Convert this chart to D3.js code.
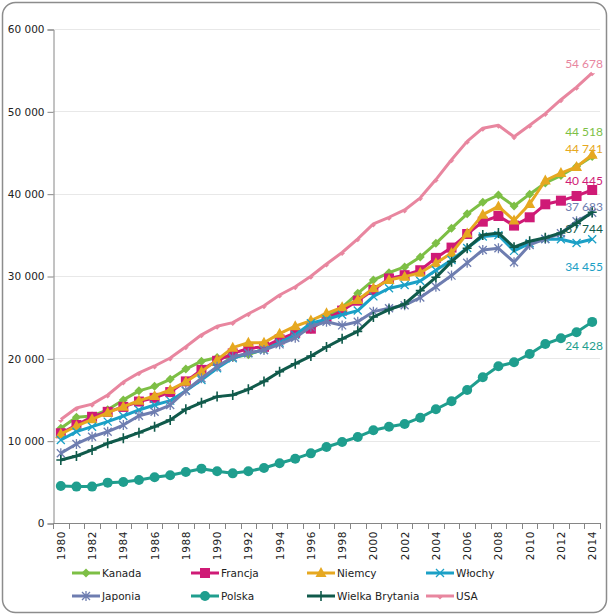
<!DOCTYPE html>
<html>
<head>
	<meta charset="utf-8">
	<title>PKB per capita</title>
	<script src="https://cdn.jsdelivr.net/npm/d3@7"></script>
	<style>
		body { margin: 0; background: #fff; }
		svg { display: block; }
	</style>
</head>
<body>
	<svg id="chart" width="610" height="616"></svg>
	<script type="text/javascript">
		var years = d3.range(1980, 2015);
		var yTicks = [0, 10000, 20000, 30000, 40000, 50000, 60000];

		var kanada = [11500,12850,13000,13750,14950,16050,16600,17450,18700,19650,20100,20100,20450,21100,22200,23000,23500,24950,26200,27900,29500,30400,31100,32300,33970,35790,37550,38950,39840,38500,39940,41300,42200,43300,44518];
		var francja = [10900,11900,12900,13500,14100,14750,15200,15900,17200,18600,19700,20600,21200,21400,22300,23100,23600,24800,25800,27000,28300,29700,30100,30700,32200,33450,35100,36600,37290,36120,37130,38710,39150,39720,40445];
		var niemcy = [10800,11780,12600,13400,14130,14860,15430,16160,17160,18380,19800,21300,21900,21900,23000,23900,24580,25470,26200,27090,28510,29520,29920,30400,31540,32800,35150,37450,38450,36750,38750,41600,42500,43250,44741];
		var wlochy = [10080,11090,11700,12310,13000,13730,14330,14860,16070,17370,18790,20010,20610,21010,21900,22840,24260,24740,25300,25800,27530,28510,28910,29400,30700,31950,33400,34800,34950,33050,33970,34500,34460,34000,34455];
		var japonia = [8470,9600,10480,11090,11900,13030,13520,14330,16070,17580,18990,20150,20650,21000,21700,22500,23850,24450,24000,24450,25670,26080,26450,27380,28700,30050,31600,33160,33370,31680,33770,34500,35190,36650,37683];
		var polska = [4490,4420,4420,4900,4980,5220,5550,5790,6190,6600,6280,6030,6280,6680,7250,7810,8460,9230,9840,10450,11260,11700,12030,12790,13810,14780,16160,17700,19030,19520,20530,21740,22430,23160,24428];
		var wielkaBrytania = [7650,8140,8870,9680,10290,10970,11700,12510,13810,14620,15350,15550,16240,17200,18380,19350,20270,21380,22370,23280,25020,25920,26600,28220,29840,31740,33370,34980,35230,33490,34230,34640,35230,36400,37744];
		var usa = [12575,13976,14434,15544,17121,18237,19071,20039,21417,22857,23889,24342,25419,26387,27695,28691,29968,31459,32854,34515,36330,37134,38023,39496,41713,44115,46352,47955,48302,46909,48310,49725,51409,52939,54678];

		// drawing order = legend order, USA ends up on top
		var series = [
			{ name: "Kanada", values: kanada, color: "#7dbf45", marker: "diamond", dy: -25 },
			{ name: "Francja", values: francja, color: "#cf1a76", marker: "square", dy: -9 },
			{ name: "Niemcy", values: niemcy, color: "#e6a820", marker: "triangle", dy: -6 },
			{ name: "Włochy", values: wlochy, color: "#1ba0c6", marker: "x", dy: 27 },
			{ name: "Japonia", values: japonia, color: "#6e7db0", marker: "asterisk", dy: -6 },
			{ name: "Polska", values: polska, color: "#1f9e8e", marker: "circle", dy: 24 },
			{ name: "Wielka Brytania", values: wielkaBrytania, color: "#105a4b", marker: "plus", dy: 17 },
			{ name: "USA", values: usa, color: "#e8869f", marker: "dash", dy: -9 }
		];

		var svg = d3.select("#chart");
		// note: "top" clashes with window.top, so use plot* names
		var plotL = 53, plotR = 600, plotT = 29, plotB = 523;

		var x = d3.scaleBand().domain(years).range([plotL, plotR]);
		var y = d3.scaleLinear().domain([0, 60000]).range([plotB, plotT]);
		var cx = function(yr) { return x(yr) + x.bandwidth() / 2; };

		var pl = d3.formatLocale({ decimal: ",", thousands: " ", grouping: [3], currency: ["", ""] });
		var fmt = pl.format(",d");

		// frame
		svg.append("rect")
			.attr("x", 2.5).attr("y", 2.5).attr("width", 604).attr("height", 610)
			.attr("rx", 13).attr("fill", "#fff").attr("stroke", "#8c8c8c").attr("stroke-width", 1.5);

		// grid
		svg.append("g").selectAll("line")
			.data(yTicks.slice(1))
			.enter().append("line")
			.attr("x1", plotL).attr("x2", plotR)
			.attr("y1", function(d) { return Math.round(y(d)) + 0.5; })
			.attr("y2", function(d) { return Math.round(y(d)) + 0.5; })
			.attr("stroke", "#e8e8e8");

		// y axis
		var yAxis = svg.append("g")
			.attr("transform", "translate(" + (plotL + 0.5) + ",0.5)")
			.call(d3.axisLeft(y).tickValues(yTicks).tickSize(6).tickPadding(3).tickFormat(fmt));
		yAxis.select(".domain").attr("stroke", "#868686");
		yAxis.selectAll(".tick line").attr("stroke", "#868686");
		yAxis.selectAll("text").attr("font-family", "DejaVu Sans").attr("font-size", "10.5px").attr("fill", "#222");

		// x axis: tick marks between categories
		var xg = svg.append("g");
		xg.append("line")
			.attr("x1", plotL).attr("x2", plotR)
			.attr("y1", plotB + 0.5).attr("y2", plotB + 0.5)
			.attr("stroke", "#868686");
		xg.selectAll("line.tk")
			.data(years.concat([2015]))
			.enter().append("line")
			.attr("class", "tk")
			.attr("x1", function(d) { return Math.round(d < 2015 ? x(d) : plotR) + 0.5; })
			.attr("x2", function(d) { return Math.round(d < 2015 ? x(d) : plotR) + 0.5; })
			.attr("y1", plotB).attr("y2", plotB + 6)
			.attr("stroke", "#868686");
		xg.selectAll("text")
			.data(years.filter(function(d) { return d % 2 === 0; }))
			.enter().append("text")
			.attr("transform", function(d) { return "translate(" + (cx(d) + 4) + "," + (plotB + 8) + ") rotate(-90)"; })
			.attr("text-anchor", "end")
			.attr("font-family", "DejaVu Sans").attr("font-size", "10.5px").attr("fill", "#222")
			.attr("letter-spacing", "0.6px")
			.text(function(d) { return d; });

		function drawMarker(g, type, color) {
			if (type === "diamond") {
				g.append("path").attr("d", "M0,-4.5L4.5,0L0,4.5L-4.5,0Z").attr("fill", color);
			} else if (type === "square") {
				g.append("rect").attr("x", -5).attr("y", -5).attr("width", 10).attr("height", 10).attr("fill", color);
			} else if (type === "triangle") {
				g.append("path").attr("d", "M0,-6L5.5,4L-5.5,4Z").attr("fill", color);
			} else if (type === "circle") {
				g.append("circle").attr("r", 5).attr("fill", color);
			} else if (type === "x") {
				g.append("path").attr("d", "M-4,-4L4,4M-4,4L4,-4").attr("stroke", color).attr("stroke-width", 1.3);
			} else if (type === "asterisk") {
				g.append("path").attr("d", "M-4,-4L4,4M-4,4L4,-4M0,-5L0,5").attr("stroke", color).attr("stroke-width", 1.3);
			} else if (type === "plus") {
				g.append("path").attr("d", "M-4.5,0L4.5,0M0,-5L0,5").attr("stroke", color).attr("stroke-width", 1.6);
			} else if (type === "dash") {
				g.append("path").attr("d", "M-3,0.5L3,0.5L0,3.5Z").attr("fill", color);
			}
		}

		var line = d3.line()
			.x(function(d, i) { return cx(years[i]); })
			.y(function(d) { return y(d); });

		var plot = svg.append("g");
		series.forEach(function(s) {
			var g = plot.append("g");
			g.append("path")
				.datum(s.values)
				.attr("d", line)
				.attr("fill", "none")
				.attr("stroke", s.color)
				.attr("stroke-width", 3)
				.attr("stroke-linejoin", "round");
			g.selectAll("g.m")
				.data(s.values)
				.enter().append("g")
				.attr("class", "m")
				.attr("transform", function(d, i) { return "translate(" + cx(years[i]) + "," + y(d) + ")"; })
				.each(function() { drawMarker(d3.select(this), s.marker, s.color); });
		});

		// end labels
		svg.append("g").selectAll("text")
			.data(series)
			.enter().append("text")
			.attr("x", 603)
			.attr("y", function(s) { return y(s.values[s.values.length - 1]) + s.dy; })
			.attr("dy", "0.35em")
			.attr("text-anchor", "end")
			.attr("font-family", "Lato").attr("font-size", "12px")
			.attr("fill", function(s) { return s.color; })
			.text(function(s) { return fmt(s.values[s.values.length - 1]); });

		// legend
		var legX = [72, 191, 307, 426];
		var legY = [573, 596];
		var leg = svg.append("g").selectAll("g")
			.data(series)
			.enter().append("g")
			.attr("transform", function(s, i) { return "translate(" + legX[i % 4] + "," + legY[Math.floor(i / 4)] + ")"; });
		leg.append("line")
			.attr("x1", 0).attr("x2", 28).attr("y1", 0).attr("y2", 0)
			.attr("stroke", function(s) { return s.color; }).attr("stroke-width", 3);
		leg.each(function(s) {
			var m = d3.select(this).append("g").attr("transform", "translate(14,0)");
			drawMarker(m, s.marker, s.color);
		});
		leg.append("text")
			.attr("x", 30).attr("y", 0).attr("dy", "0.35em")
			.attr("font-family", "DejaVu Sans").attr("font-size", "10.5px").attr("fill", "#222")
			.text(function(s) { return s.name; });
	</script>
</body>
</html>
